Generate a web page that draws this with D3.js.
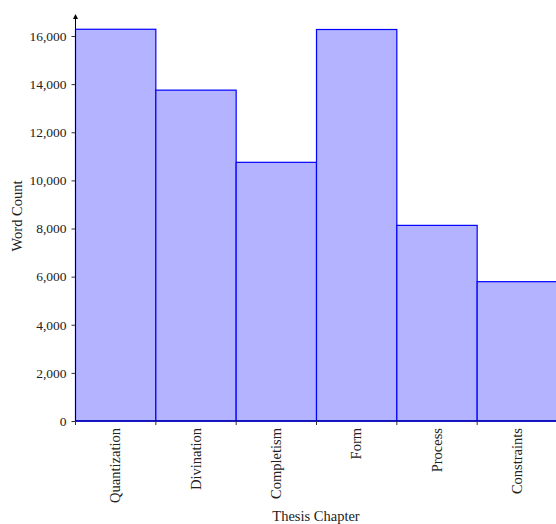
<!DOCTYPE html>
<html><head><meta charset="utf-8">
<script src="https://cdn.jsdelivr.net/npm/d3@7"></script>
<style>body{margin:0;background:#fff}svg{display:block}</style>
</head><body>
<script>
const chapters = ["Quantization","Divination","Completism","Form","Process","Constraints"];
const wordCounts = [16280, 13750, 10750, 16270, 8130, 5790];
const yTicks = [0,2000,4000,6000,8000,10000,12000,14000,16000];

const W=556,H=524;
const mLeft=75.5, mRight=557.5, mTop=14, mBottom=421;
const FONT="'Liberation Serif', 'DejaVu Serif', serif";
const svg=d3.select("body").append("svg").attr("width",W).attr("height",H)
  .style("font-family",FONT);

const x=d3.scaleBand().domain(chapters).range([mLeft,mRight]).padding(0);
const y=d3.scaleLinear().domain([0,16000]).range([mBottom,36]);

// bars
svg.append("g").selectAll("rect").data(chapters).join("rect")
  .attr("x",d=>x(d)).attr("width",x.bandwidth())
  .attr("y",(d,i)=>y(wordCounts[i])).attr("height",(d,i)=>mBottom-y(wordCounts[i]))
  .attr("fill","#b3b3ff").attr("stroke","#0000ff").attr("stroke-width",1.2);

// y axis
const fmt=d3.format(",");
const ya=svg.append("g").attr("transform",`translate(${mLeft},0)`)
  .call(d3.axisLeft(y).tickValues(yTicks).tickFormat(fmt).tickSize(4).tickSizeOuter(0));
ya.attr("font-family",null).attr("font-size",null);
ya.select(".domain").remove();
ya.selectAll("line").attr("stroke","#333");
ya.selectAll("text").style("font-family",FONT).style("font-size","13.5px").attr("fill","#222").attr("dx",-2);
svg.append("line").attr("x1",mLeft).attr("x2",mLeft).attr("y1",mBottom).attr("y2",mTop+3).attr("stroke","#000").attr("stroke-width",1);
svg.append("path").attr("d",`M${mLeft-2.5},${mTop+5}L${mLeft},${mTop}L${mLeft+2.5},${mTop+5}Z`).attr("fill","#000");

// x axis
svg.append("line").attr("x1",mLeft).attr("x2",W).attr("y1",mBottom).attr("y2",mBottom).attr("stroke","#000").attr("stroke-width",1);
svg.append("line").attr("x1",mLeft).attr("x2",x(chapters[5])+x.bandwidth()).attr("y1",mBottom).attr("y2",mBottom).attr("stroke","#0000ff").attr("stroke-width",1.2);
const edges=chapters.map(d=>x(d));
svg.append("g").selectAll("line").data(edges).join("line")
  .attr("x1",d=>d).attr("x2",d=>d).attr("y1",mBottom).attr("y2",mBottom+4).attr("stroke","#333");
svg.append("g").selectAll("text").data(chapters).join("text")
  .attr("transform",d=>`translate(${x(d)+x.bandwidth()/2+4.5},${mBottom+7}) rotate(-90)`)
  .attr("text-anchor","end").style("font-family",FONT).style("font-size","14.5px").attr("fill","#222").text(d=>d);

// titles
svg.append("text").attr("x",316).attr("y",521).attr("text-anchor","middle").style("font-family",FONT).style("font-size","14.5px").attr("fill","#222").text("Thesis Chapter");
svg.append("text").attr("transform","translate(22,216) rotate(-90)").attr("text-anchor","middle").style("font-family",FONT).style("font-size","14.5px").attr("fill","#222").text("Word Count");
</script>
</body></html>
